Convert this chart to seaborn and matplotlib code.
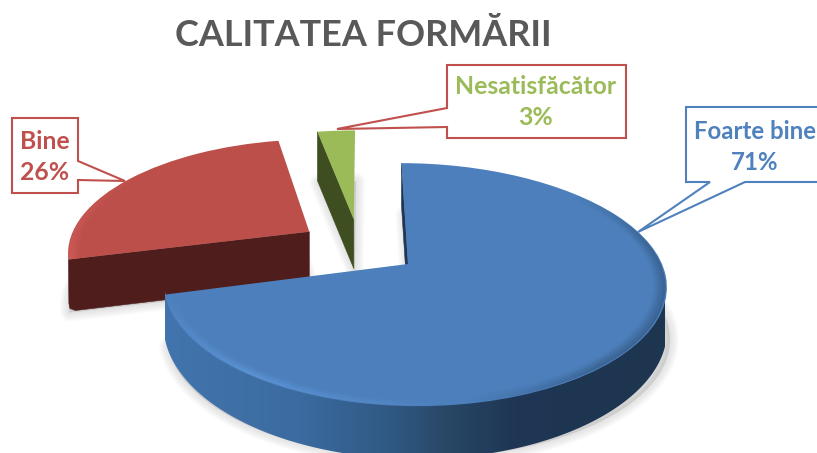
import numpy as np
import matplotlib
matplotlib.use("Agg")
import matplotlib.pyplot as plt
import matplotlib.transforms as mtransforms
from matplotlib.collections import PolyCollection
from matplotlib.colors import LinearSegmentedColormap, to_rgb
from matplotlib.patches import Polygon
import seaborn as sns

# ---- data ----
categories = ["Foarte bine", "Bine", "Nesatisfăcător"]
values = [71, 26, 3]
percent_labels = ["71%", "26%", "3%"]
title_text = "CALITATEA FORMĂRII"

# ---- style ----
top_colors = ["#4c7fbb", "#bd4f4b", "#9bbb59"]
face_colors = ["#1f3654", "#4f1e1c", "#3f4e20"]
font = "Lato"

sns.set_theme(style="white")
plt.rcParams["font.family"] = [font, "DejaVu Sans"]

X0, Y0 = 408.0, 264.0            # pixel position of the blue wedge apex
RX, RY, K = 248.0, 118.0, 0.17   # projection of the pie plane
VANISH = 45.0
EXPLODE = 0.25
BLUE_MID = np.radians(90 - 0.71 * 180)
OX, OY = EXPLODE * np.cos(BLUE_MID), EXPLODE * np.sin(BLUE_MID)


def project(x, y, bend=0.0, bend_cx=0.0):
    """Map pie-plane coordinates to picture pixels, in tilted perspective."""
    px, py = np.asarray(x) - OX, np.asarray(y) - OY
    w = 1 + K * py
    sx = X0 - VANISH + (VANISH + RX * px) / w + bend * (np.asarray(x) - bend_cx) ** 2
    sy = Y0 - RY * py / w
    return sx, sy


class Tilt(mtransforms.Transform):
    input_dims = output_dims = 2
    is_separable = False
    has_inverse = False

    def __init__(self, bend=0.0, bend_cx=0.0):
        super().__init__()
        self.bend, self.bend_cx = bend, bend_cx

    def transform_non_affine(self, v):
        sx, sy = project(v[:, 0], v[:, 1], self.bend, self.bend_cx)
        return np.column_stack([sx, sy])


fig, ax = plt.subplots(figsize=(8.17, 4.53), dpi=100)
fig.subplots_adjust(0, 0, 1, 1)

wedges, _ = ax.pie(
    values,
    explode=[EXPLODE] * 3,
    startangle=90,
    counterclock=False,
    colors=top_colors,
    wedgeprops={"linewidth": 0},
)
ax.axis("off")

BENDS = [6.0, 0.0, 0.0]
DEPTHS = [42.0, 51.0, 49.0]
LAYER = [30, 20, 10]


def arc(w, bend, start=None, stop=None, n=160, r=1.0):
    t = np.radians(np.linspace(w.theta1 if start is None else start,
                               w.theta2 if stop is None else stop, n))
    cx, cy = w.center
    return project(cx + r * w.r * np.cos(t), cy + r * w.r * np.sin(t), bend, cx)


def outline(w, bend):
    sx, sy = arc(w, bend)
    ax_, ay_ = project(*w.center, bend, w.center[0])
    return np.column_stack([np.r_[ax_, sx], np.r_[ay_, sy]])


# soft shadows under each extruded wedge
for i, w in enumerate(wedges):
    pts = outline(w, BENDS[i]).copy()
    pts[:, 1] += DEPTHS[i] + (10 if i == 0 else 2)
    pts[:, 0] += 3 if i == 0 else 1
    for k in range(8):
        ax.add_patch(Polygon(pts, closed=True, fc="#707070", ec="#707070",
                             alpha=0.022, lw=1 + 1.7 * k, joinstyle="round", zorder=1))

# cut faces: the radial edge at the end of each wedge faces the viewer
wall_cmap = LinearSegmentedColormap.from_list(
    "wall",
    [(0.0, "#4275ad"), (0.27, "#3b6ba0"), (0.47, "#2f5680"),
     (0.57, "#284665"), (0.70, "#1f3654"), (1.0, "#1e3550")],
)
for i, w in enumerate(wedges):
    bend = BENDS[i]
    cx, cy = w.center
    apex = np.array(project(cx, cy, bend, cx))
    t = np.radians(w.theta2)
    rim = np.array(project(cx + np.cos(t), cy + np.sin(t), bend, cx))
    d = DEPTHS[i]
    if i == 1:   # rounded lower corner of the red face
        corner = [rim + [0.5, d - 7], rim + [1.5, d - 2], rim + [7, d]]
    else:
        corner = [rim + [0, d]]
    quad = np.array([apex, rim, *corner, apex + [0, d]])
    ax.add_patch(Polygon(quad, closed=True, fc=face_colors[i], ec=face_colors[i],
                         lw=0.4, joinstyle="round", zorder=LAYER[i] - 2))

# blue outer wall: horizontal gradient clipped to the extruded rim
blue = wedges[0]
sx, sy = arc(blue, BENDS[0], start=blue.theta1, stop=-14, n=300)
drop = DEPTHS[0] / (1 + K * ((Y0 - sy) / RY))
wall_pts = np.column_stack([np.r_[sx, sx[::-1]], np.r_[sy - 4, (sy + drop)[::-1]]])
wall_clip = Polygon(wall_pts, closed=True, transform=ax.transData, fc="none", ec="none")
ax.add_patch(wall_clip)
gradient = np.linspace(0, 1, 512)[None, :]
wall_img = ax.imshow(gradient, cmap=wall_cmap, extent=(165, 665, 480, 250), aspect="auto",
                     zorder=LAYER[0] - 1, interpolation="bilinear")
wall_img.set_clip_path(wall_clip)

ax.set_aspect("auto")
ax.set_xlim(0, 817)
ax.set_ylim(453, 0)

# top surfaces drawn by the pie itself, seen through the tilt
for i, w in enumerate(wedges):
    w.set_transform(Tilt(BENDS[i], w.center[0]) + ax.transData)
    w.set_zorder(LAYER[i])
    w.set_clip_on(False)


# bevelled rim of the blue and red tops
def rim_band(w, bend, rule, zorder):
    rings = np.linspace(0.95, 0.995, 6)
    quads, cols = [], []
    ths = np.linspace(w.theta1, w.theta2, 300)
    for a, b in zip(rings[:-1], rings[1:]):
        for t0, t1 in zip(ths[:-1], ths[1:]):
            c = rule(0.5 * (t0 + t1), 0.5 * (a + b))
            if c is None:
                continue
            o0 = arc(w, bend, t0, t1, n=2, r=a)
            o1 = arc(w, bend, t0, t1, n=2, r=b)
            quads.append([(o0[0][0], o0[1][0]), (o0[0][1], o0[1][1]),
                          (o1[0][1], o1[1][1]), (o1[0][0], o1[1][0])])
            cols.append(c)
    ax.add_collection(PolyCollection(quads, facecolors=cols, edgecolors="none", zorder=zorder))


def blue_rule(theta, r):
    s = (r - 0.95) / 0.045
    if theta < -80:      # highlight at the left front
        a = 0.6 * (1 - abs(theta + 125) / 45)
        return (*to_rgb("#6aa5ee"), max(a, 0) * s)
    if theta < -50:
        return (*to_rgb("#24415f"), 0.5 * (theta + 80) / 30 * s)
    if theta < 40:
        return (*to_rgb("#24415f"), (0.5 if theta < 10 else 0.5 * (40 - theta) / 30) * s)
    return None


def red_rule(theta, r):
    s = (r - 0.95) / 0.045
    a = np.clip((theta + 360 - 140) / 50, 0, 1)
    return (*to_rgb("#d8625e"), 0.75 * a * s)


rim_band(wedges[0], BENDS[0], blue_rule, LAYER[0] + 1)
rim_band(wedges[1], BENDS[1], red_rule, LAYER[1] + 1)


# callouts
def callout(points, color, text, tx, ty, size=17.8, text_color=None):
    ax.add_patch(Polygon(points, closed=True, fc="white", ec=color, lw=1.5,
                         joinstyle="miter", zorder=40, clip_on=True))
    ax.text(tx, ty, text, color=text_color or color, ha="center", va="center", fontsize=size,
            fontweight="bold", linespacing=1.38, zorder=41)


callout([(12, 118), (78, 118), (78, 161), (125, 181), (78, 180), (78, 193), (12, 193)],
        "#c0504d", f"{categories[1]}\n{percent_labels[1]}", 45, 157)
callout([(447, 65), (626, 65), (626, 138), (447, 138), (447, 127), (337, 129), (447, 108)],
        "#c0504d", f"{categories[2]}\n{percent_labels[2]}", 536, 102, text_color="#9bbb59")
callout([(686, 107), (830, 107), (830, 182), (745, 182), (638, 232), (710, 182), (686, 182)],
        "#4f81bd", f"{categories[0]}\n{percent_labels[0]}", 755, 147, size=17.3)

ax.text(363, 35, title_text, color="#595959", ha="center", va="center",
        fontsize=25.9, fontweight="bold")

fig.savefig("out.png", dpi=100, facecolor="white")
